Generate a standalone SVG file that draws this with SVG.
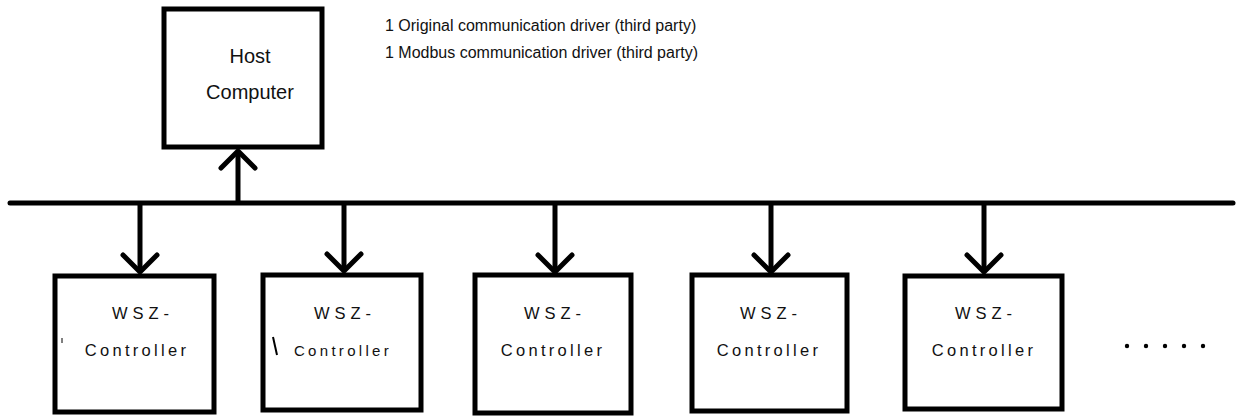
<svg xmlns="http://www.w3.org/2000/svg" width="1239" height="417" viewBox="0 0 1239 417">
<style>
.box{fill:#fff;stroke:#000;stroke-width:5;stroke-linejoin:miter}
.ln{fill:none;stroke:#000;stroke-width:5}
.hd{stroke-linecap:round;stroke-linejoin:round}
.t{font-family:"Liberation Sans",Arial,sans-serif;fill:#111}
.big{font-size:16px}
.host{font-size:20px}
.ctl{font-size:16.5px;letter-spacing:3.3px}
.w{letter-spacing:5px}
</style>
<rect width="1239" height="417" fill="#fff"/>
<g id="connectors">
  <line class="ln" x1="10" y1="203" x2="1233" y2="203" stroke-linecap="round"/>
  <line class="ln" x1="238" y1="203" x2="238" y2="151"/>
  <polyline class="ln hd" points="221,168 238,151 255,168"/>
  <line class="ln" x1="140" y1="203" x2="140" y2="272"/>
  <polyline class="ln hd" points="123,255 140,272 157,255"/>
  <line class="ln" x1="344" y1="203" x2="344" y2="271"/>
  <polyline class="ln hd" points="327,254 344,271 361,254"/>
  <line class="ln" x1="555" y1="203" x2="555" y2="272"/>
  <polyline class="ln hd" points="538,255 555,272 572,255"/>
  <line class="ln" x1="771" y1="203" x2="771" y2="272"/>
  <polyline class="ln hd" points="754,255 771,272 788,255"/>
  <line class="ln" x1="984" y1="203" x2="984" y2="272"/>
  <polyline class="ln hd" points="967,255 984,272 1001,255"/>
</g>
<g id="host">
  <rect class="box" x="164" y="9" width="158" height="138"/>
  <text class="t host" x="250" y="63" text-anchor="middle">Host</text>
  <text class="t host" x="250" y="99" text-anchor="middle">Computer</text>
</g>
<g id="notes">
  <text class="t big" x="385" y="31">1 Original communication driver (third party)</text>
  <text class="t big" x="385" y="58">1 Modbus communication driver (third party)</text>
</g>
<g id="ctrl1">
  <rect class="box" x="55" y="276" width="159" height="136"/>
  <text class="t ctl w" x="143" y="319" text-anchor="middle">WSZ-</text>
  <text class="t ctl" x="137" y="356" text-anchor="middle">Controller</text>
  <line x1="62" y1="338" x2="62" y2="343" stroke="#000" stroke-width="1"/>
</g>
<g id="ctrl2">
  <rect class="box" x="263" y="275" width="158" height="135"/>
  <text class="t ctl w" x="345" y="319" text-anchor="middle">WSZ-</text>
  <text class="t ctl" x="343" y="356" text-anchor="middle" style="font-size:15px">Controller</text>
  <line x1="273" y1="337" x2="277" y2="355" stroke="#000" stroke-width="2"/>
</g>
<g id="ctrl3">
  <rect class="box" x="475" y="275" width="156" height="138"/>
  <text class="t ctl w" x="555" y="319" text-anchor="middle">WSZ-</text>
  <text class="t ctl" x="553" y="356" text-anchor="middle">Controller</text>
</g>
<g id="ctrl4">
  <rect class="box" x="692" y="275" width="155" height="136"/>
  <text class="t ctl w" x="771" y="319" text-anchor="middle">WSZ-</text>
  <text class="t ctl" x="769" y="356" text-anchor="middle">Controller</text>
</g>
<g id="ctrl5">
  <rect class="box" x="905" y="276" width="157" height="133"/>
  <text class="t ctl w" x="986" y="319" text-anchor="middle">WSZ-</text>
  <text class="t ctl" x="984" y="356" text-anchor="middle">Controller</text>
</g>
<g id="dots" fill="#000">
  <circle cx="1127" cy="346" r="2.2"/>
  <circle cx="1146" cy="346" r="2.2"/>
  <circle cx="1165" cy="346" r="2.2"/>
  <circle cx="1184" cy="346" r="2.2"/>
  <circle cx="1203" cy="346" r="2.2"/>
</g>
</svg>
